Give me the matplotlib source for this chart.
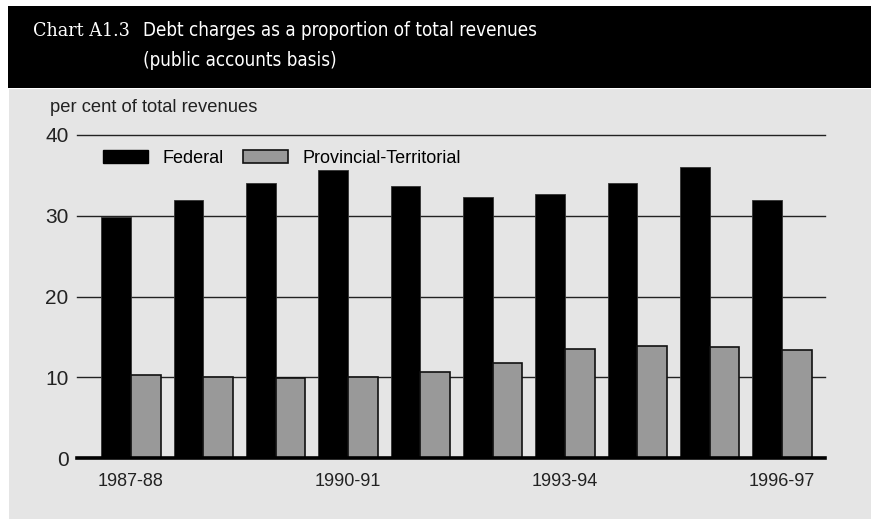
import matplotlib
matplotlib.use("Agg")
import matplotlib.pyplot as plt
from matplotlib.patches import Rectangle, Patch
import numpy as np

years = ["1987-88", "1988-89", "1989-90", "1990-91", "1991-92",
         "1992-93", "1993-94", "1994-95", "1995-96", "1996-97"]
federal = [29.8, 31.9, 34.1, 35.7, 33.7, 32.3, 32.7, 34.1, 36.0, 31.9]
provincial = [10.3, 10.0, 9.9, 10.0, 10.7, 11.8, 13.5, 13.9, 13.8, 13.4]
shown_labels = ["1987-88", "1990-91", "1993-94", "1996-97"]
yticks = [0, 10, 20, 30, 40]

plt.rcParams["font.family"] = ["Liberation Sans", "DejaVu Sans"]

W, H = 871, 519
fig = plt.figure(figsize=(W / 100, H / 100), dpi=100)
fig.patch.set_facecolor("white")

# header band and grey panel
fig.patches.append(Rectangle((8 / W, 1 - 88 / H), 1 - 8 / W, 82 / H,
                             transform=fig.transFigure, facecolor="black",
                             edgecolor="none", zorder=-2))
fig.patches.append(Rectangle((9 / W, 0), 1 - 9 / W, 1 - 89 / H,
                             transform=fig.transFigure, facecolor="#e5e5e5",
                             edgecolor="none", zorder=-2))

fig.text(33 / W, 1 - 36 / H, "Chart A1.3", color="white", fontsize=14,
         family="DejaVu Serif", stretch="condensed", va="baseline")
fig.text(143 / W, 1 - 36 / H, "Debt charges as a proportion of total revenues",
         color="white", fontsize=13.5, family="DejaVu Sans", stretch="condensed",
         va="baseline")
fig.text(143 / W, 1 - 66 / H, "(public accounts basis)",
         color="white", fontsize=13.5, family="DejaVu Sans", stretch="condensed",
         va="baseline")

ax = fig.add_axes([77 / W, (H - 458) / H, (825 - 77) / W, (458 - 135) / H])
ax.set_facecolor("none")
x = np.arange(len(years))
bw = 0.41
ax.bar(x - bw, federal, width=bw, align="edge", color="black",
       edgecolor="#333333", linewidth=0.6, zorder=3)
ax.bar(x, provincial, width=bw, align="edge", color="#999999",
       edgecolor="#111111", linewidth=1.2, zorder=3)

for v in yticks[1:]:
    ax.axhline(v, color="#222222", linewidth=1.0, zorder=1, clip_on=False)
ax.axhline(0, color="black", linewidth=2.6, zorder=4, clip_on=False)

ax.set_xlim(-0.747, 9.595)
ax.set_ylim(0, 40)
for s in ax.spines.values():
    s.set_visible(False)
ax.set_yticks(yticks)
ax.set_yticklabels([str(v) for v in yticks], fontsize=15, color="#222222")
pos = [years.index(l) for l in shown_labels]
ax.set_xticks(pos)
ax.set_xticklabels(shown_labels, fontsize=13, color="#222222")
ax.tick_params(axis="both", length=0)
ax.tick_params(axis="y", pad=6)
ax.tick_params(axis="x", pad=11)

fig.text(50 / W, 1 - 108 / H, "per cent of total revenues", fontsize=13.2,
         color="#222222", va="center")

handles = [Patch(facecolor="black", edgecolor="black"),
           Patch(facecolor="#999999", edgecolor="#111111", linewidth=1.2)]
ax.legend(handles, ["Federal", "Provincial-Territorial"], ncol=2,
          loc="upper left", bbox_to_anchor=(26 / 748, 1 - 15 / 323),
          frameon=False, fontsize=13, handlelength=2.5, handleheight=0.72,
          handletextpad=0.78, columnspacing=1.1, borderaxespad=0, borderpad=0)

fig.savefig("out.png", dpi=100)
